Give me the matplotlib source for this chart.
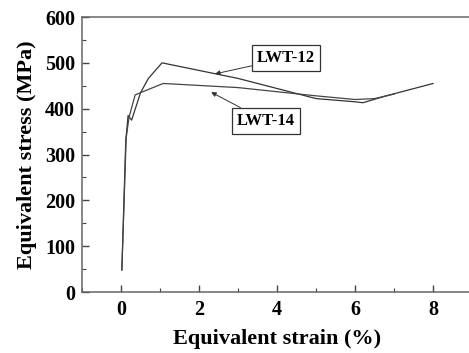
import matplotlib
matplotlib.use("Agg")
import matplotlib.pyplot as plt
from matplotlib.ticker import MultipleLocator

plt.rcParams['font.family'] = ['Liberation Serif', 'DejaVu Serif']
plt.rcParams['font.weight'] = 'bold'

# Equivalent strain (%) / stress (MPa)
strain_12 = [0.02, 0.12, 0.18, 0.27, 0.5, 0.7, 1.05, 3.0, 5.0, 6.0, 6.2, 6.8, 8.0]
stress_12 = [48, 330, 385, 375, 435, 466, 500, 466, 422, 415, 413, 428, 455]
strain_14 = [0.02, 0.13, 0.2, 0.36, 0.5, 1.08, 3.0, 5.0, 6.0, 6.5, 7.0]
stress_14 = [48, 335, 380, 430, 435, 455, 446, 428, 420, 422, 432]

xticks = [0, 2, 4, 6, 8]
yticks = [0, 100, 200, 300, 400, 500, 600]

fig = plt.figure(figsize=(4.69, 3.53), dpi=100)
ax = fig.add_axes([0.175, 0.1728, 0.8316, 0.779])

ax.plot(strain_12, stress_12, color='#333333', lw=0.9)
ax.plot(strain_14, stress_14, color='#444444', lw=0.9)

ax.set_xlim(-1, 9)
ax.set_ylim(0, 600)
ax.set_xticks(xticks)
ax.set_yticks(yticks)
ax.xaxis.set_minor_locator(MultipleLocator(1))
ax.yaxis.set_minor_locator(MultipleLocator(50))
ax.tick_params(which='both', direction='in', labelsize=14.5, top=False, right=False,
               color='#444444')
ax.tick_params(which='major', length=5, width=1)
ax.tick_params(axis='x', which='major', pad=6)
ax.tick_params(axis='y', which='major', pad=5)
ax.tick_params(which='minor', length=3, width=0.8)
for lab in ax.get_xticklabels() + ax.get_yticklabels():
    lab.set_fontweight('bold')
for sp in ax.spines.values():
    sp.set_color('#666666')
    sp.set_linewidth(1.1)

ax.set_xlabel('Equivalent strain (%)', fontsize=16, fontweight='bold', labelpad=6)
ax.set_ylabel('Equivalent stress (MPa)', fontsize=16, fontweight='bold', labelpad=6)

box = dict(boxstyle='square,pad=0.3', fc='white', ec='#333333', lw=0.9)
arrow = dict(arrowstyle='-|>', color='#333333', lw=0.7, mutation_scale=7, shrinkA=0, shrinkB=0)
ax.annotate('LWT-12', xy=(2.41, 476), xytext=(3.49, 510), fontsize=12, fontweight='bold',
            bbox=box, arrowprops=arrow, ha='left', va='center')
ax.annotate('LWT-14', xy=(2.31, 436), xytext=(2.97, 373), fontsize=12, fontweight='bold',
            bbox=box, arrowprops=arrow, ha='left', va='center')

fig.savefig('out.png', dpi=100)
